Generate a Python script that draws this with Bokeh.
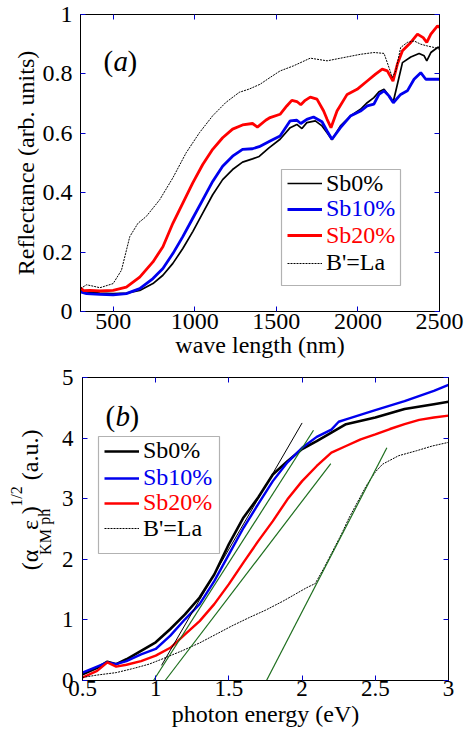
from bokeh.plotting import figure
from bokeh.models import (Range1d, LinearAxis, FixedTicker, Legend, LegendItem,
                          Label, BoxAnnotation)
from bokeh.layouts import column, row
from bokeh.embed import file_html
from bokeh.resources import INLINE
import math

# ---------------- data: panel (a) reflectance vs wavelength ----------------
wl_sb0 = [300, 337, 419, 500, 581, 663, 744, 805, 866, 927, 988, 1049, 1110, 1171, 1232, 1293,
          1354, 1395, 1455, 1523, 1585, 1626, 1657, 1687, 1739, 1780, 1811, 1841, 1893, 1954,
          2016, 2057, 2098, 2129, 2160, 2190, 2217, 2242, 2273, 2324, 2375, 2406, 2422, 2447,
          2488, 2500]
r_sb0 = [0.071, 0.066, 0.062, 0.060, 0.062, 0.071, 0.094, 0.122, 0.162, 0.212, 0.269, 0.331,
         0.393, 0.444, 0.478, 0.503, 0.514, 0.522, 0.551, 0.580, 0.619, 0.630, 0.616, 0.636,
         0.642, 0.625, 0.602, 0.578, 0.625, 0.658, 0.681, 0.703, 0.720, 0.740, 0.748, 0.726,
         0.707, 0.765, 0.838, 0.857, 0.869, 0.861, 0.844, 0.872, 0.889, 0.889]

wl_sb10 = [300, 337, 419, 500, 581, 663, 744, 805, 866, 927, 988, 1049, 1110, 1171, 1232, 1293,
           1354, 1395, 1462, 1523, 1585, 1626, 1650, 1687, 1728, 1780, 1811, 1841, 1893, 1954,
           2016, 2057, 2098, 2129, 2160, 2190, 2217, 2262, 2303, 2344, 2385, 2416, 2447, 2500]
r_sb10 = [0.066, 0.060, 0.058, 0.056, 0.060, 0.077, 0.111, 0.145, 0.195, 0.252, 0.314, 0.376,
          0.438, 0.489, 0.523, 0.546, 0.548, 0.555, 0.574, 0.591, 0.642, 0.644, 0.633, 0.647,
          0.655, 0.639, 0.608, 0.580, 0.619, 0.658, 0.675, 0.692, 0.698, 0.731, 0.743, 0.726,
          0.703, 0.731, 0.743, 0.782, 0.804, 0.782, 0.782, 0.782]

wl_sb20 = [300, 320, 358, 419, 500, 581, 663, 744, 805, 866, 927, 988, 1049, 1110, 1171, 1232,
           1293, 1354, 1384, 1435, 1462, 1523, 1564, 1595, 1626, 1650, 1677, 1708, 1749, 1790,
           1811, 1835, 1872, 1934, 1995, 2057, 2108, 2149, 2180, 2215, 2242, 2273, 2324, 2365,
           2400, 2422, 2447, 2488, 2500]
r_sb20 = [0.080, 0.070, 0.071, 0.069, 0.071, 0.082, 0.116, 0.167, 0.218, 0.297, 0.365, 0.433,
          0.495, 0.546, 0.585, 0.614, 0.628, 0.633, 0.621, 0.644, 0.653, 0.664, 0.692, 0.711,
          0.707, 0.696, 0.711, 0.722, 0.715, 0.675, 0.647, 0.619, 0.675, 0.731, 0.748, 0.776,
          0.799, 0.816, 0.810, 0.776, 0.833, 0.878, 0.906, 0.934, 0.922, 0.906, 0.934, 0.962,
          0.956]

wl_la = [300, 337, 380, 419, 500, 551, 602, 652, 703, 785, 866, 947, 1029, 1110, 1191, 1273,
         1334, 1400, 1462, 1523, 1605, 1708, 1811, 1913, 2016, 2098, 2160, 2180, 2211, 2232,
         2262, 2303, 2344, 2385, 2426, 2467, 2500]
r_la = [0.077, 0.090, 0.085, 0.080, 0.094, 0.139, 0.252, 0.297, 0.320, 0.376, 0.450, 0.534,
        0.602, 0.659, 0.704, 0.738, 0.749, 0.765, 0.788, 0.810, 0.827, 0.853, 0.844, 0.855,
        0.866, 0.872, 0.869, 0.838, 0.788, 0.810, 0.889, 0.906, 0.911, 0.900, 0.894, 0.889,
        0.883]

a_xticks = [500, 1000, 1500, 2000, 2500]
a_xlabels = ["500", "1000", "1500", "2000", "2500"]
a_yticks = [0, 0.2, 0.4, 0.6, 0.8, 1.0]
a_ylabels = ["0", "0.2", "0.4", "0.6", "0.8", "1"]

# ---------------- data: panel (b) Kubelka-Munk vs photon energy ----------------
e_sb0 = [0.5, 0.6, 0.67, 0.73, 0.8, 0.9, 1.0, 1.1, 1.2, 1.3, 1.4, 1.5, 1.6, 1.7, 1.8, 1.9,
         2.0, 2.1, 2.2, 2.3, 2.5, 2.7, 2.9, 3.0]
k_sb0 = [0.10, 0.21, 0.31, 0.27, 0.35, 0.49, 0.63, 0.85, 1.09, 1.37, 1.75, 2.25, 2.69, 3.02,
         3.40, 3.62, 3.82, 3.95, 4.09, 4.23, 4.34, 4.48, 4.56, 4.60]
e_sb10 = [0.5, 0.6, 0.67, 0.73, 0.8, 0.9, 1.0, 1.1, 1.2, 1.3, 1.4, 1.5, 1.6, 1.7, 1.8, 1.9,
          2.0, 2.1, 2.2, 2.25, 2.3, 2.5, 2.7, 2.9, 3.0]
k_sb10 = [0.13, 0.23, 0.30, 0.27, 0.32, 0.43, 0.52, 0.74, 1.01, 1.26, 1.64, 2.08, 2.52, 2.91,
          3.29, 3.60, 3.84, 4.02, 4.14, 4.27, 4.31, 4.46, 4.61, 4.78, 4.88]
e_sb20 = [0.5, 0.6, 0.67, 0.73, 0.8, 0.9, 1.0, 1.1, 1.2, 1.3, 1.4, 1.5, 1.6, 1.7, 1.8, 1.9,
          2.0, 2.1, 2.2, 2.3, 2.4, 2.5, 2.6, 2.7, 2.8, 2.9, 3.0]
k_sb20 = [0.05, 0.16, 0.30, 0.23, 0.26, 0.32, 0.41, 0.54, 0.76, 0.98, 1.26, 1.59, 1.95, 2.30,
          2.63, 2.99, 3.29, 3.54, 3.76, 3.87, 3.98, 4.06, 4.15, 4.23, 4.30, 4.34, 4.37]
e_la = [0.5, 0.6, 0.73, 0.85, 0.955, 1.05, 1.18, 1.3, 1.41, 1.52, 1.64, 1.75, 1.87, 1.95,
        2.03, 2.09, 2.15, 2.21, 2.27, 2.32, 2.38, 2.44, 2.5, 2.55, 2.66, 2.78, 2.89, 3.0]
k_la = [0.05, 0.09, 0.13, 0.20, 0.27, 0.36, 0.49, 0.62, 0.76, 0.90, 1.04, 1.16, 1.31, 1.42,
        1.53, 1.60, 1.86, 2.14, 2.42, 2.68, 2.95, 3.22, 3.44, 3.57, 3.71, 3.79, 3.87, 3.93]

# linear extrapolation lines (band-gap fits)
fit0_e = [1.04, 2.0]
fit0_k = [0.25, 4.25]
fit10_e = [0.985, 2.078]
fit10_k = [0.0, 4.13]
fit20_e = [1.065, 2.196]
fit20_k = [0.0, 3.58]
fitla_e = [1.757, 2.579]
fitla_k = [0.0, 3.84]

b_xticks = [0.5, 1.0, 1.5, 2.0, 2.5, 3.0]
b_xlabels = ["0.5", "1", "1.5", "2", "2.5", "3"]
b_yticks = [0, 1, 2, 3, 4, 5]
b_ylabels = ["0", "1", "2", "3", "4", "5"]

series_names = ["Sb0%", "Sb10%", "Sb20%", "B'=La"]
series_colors = ["black", "#0000ee", "#ff0000", "black"]

FONT = "Liberation Serif"
TICK = "#0000cc"
FIT_GREEN = "#1d6e1d"


def style_axes(p, xticks, xlabels, yticks, ylabels, xlabel, ylabel, tick_fs, lab_fs,
               tick_std_x, tick_std_y, lab_std_x, lab_std_y):
    bottom = p.below[0]
    left = p.left[0]
    bottom.ticker = FixedTicker(ticks=xticks)
    bottom.major_label_overrides = {t: l for t, l in zip(xticks, xlabels)}
    bottom.axis_label = xlabel
    bottom.major_label_standoff = tick_std_x
    bottom.axis_label_standoff = lab_std_x
    left.ticker = FixedTicker(ticks=yticks)
    left.major_label_overrides = {t: l for t, l in zip(yticks, ylabels)}
    left.axis_label = ylabel
    left.major_label_standoff = tick_std_y
    left.axis_label_standoff = lab_std_y
    # mirrored tick axes (top / right), without labels
    top = LinearAxis(ticker=FixedTicker(ticks=xticks))
    right = LinearAxis(ticker=FixedTicker(ticks=yticks))
    for ax in (top, right):
        ax.major_label_text_color = None
        ax.major_label_text_font_size = "1px"
        ax.major_label_standoff = 0
    p.add_layout(top, "above")
    p.add_layout(right, "right")
    for ax in (bottom, left, top, right):
        ax.axis_line_color = "black"
        ax.major_tick_line_color = TICK
        ax.major_tick_line_width = 1
        ax.major_tick_in = 5
        ax.major_tick_out = 0
        ax.minor_tick_line_color = None
    for ax in (bottom, left):
        ax.major_label_text_font = FONT
        ax.major_label_text_font_size = tick_fs
        ax.major_label_text_font_style = "normal"
        ax.major_label_text_color = "black"
        ax.axis_label_text_font = FONT
        ax.axis_label_text_font_style = "normal"
        ax.axis_label_text_font_size = lab_fs
        ax.axis_label_text_color = "black"
    p.xgrid.visible = False
    p.ygrid.visible = False
    p.outline_line_color = "black"
    p.outline_line_width = 1


def add_legend_rows(p, renderers, x0, row_ys, glyph_w, standoff):
    for r, name, col, yc in zip(renderers, series_names, series_colors, row_ys):
        leg = Legend(items=[LegendItem(label=name, renderers=[r])], location=(x0, yc - 10),
                     border_line_color=None, background_fill_alpha=0, padding=0, margin=0,
                     spacing=0, glyph_width=glyph_w, glyph_height=20, label_height=20,
                     label_standoff=standoff, label_text_font=FONT,
                     label_text_font_style="normal",
                     label_text_font_size="24px", label_text_color=col,
                     label_text_baseline="middle")
        p.add_layout(leg)


# ---------------- panel (a) ----------------
p1 = figure(width=464, height=366, output_backend="svg", toolbar_location=None,
            x_range=Range1d(300, 2500), y_range=Range1d(0, 1),
            min_border_left=80, min_border_right=25, min_border_top=14, min_border_bottom=55)
style_axes(p1, a_xticks, a_xlabels, a_yticks, a_ylabels, "wave length (nm)",
           "Reflectance (arb. units)", "24px", "24px", 2, 8, 0, 1)

ra0 = p1.line(wl_sb0, r_sb0, line_color="black", line_width=1.7)
ra10 = p1.line(wl_sb10, r_sb10, line_color=series_colors[1], line_width=2.8)
ra20 = p1.line(wl_sb20, r_sb20, line_color=series_colors[2], line_width=2.8)
rala = p1.line(wl_la, r_la, line_color="black", line_width=1, line_dash="2 1")

p1.add_layout(BoxAnnotation(left=201, right=320, bottom=26, top=142,
                            left_units="screen", right_units="screen",
                            bottom_units="screen", top_units="screen",
                            fill_color=None, line_color="black", line_width=1.2))
add_legend_rows(p1, [ra0, ra10, ra20, rala], 207, [124.3, 98.7, 72.3, 45.0], 35, 4)

for txt, dx, style in (("(", 0, "normal"), ("a", 10, "italic"), (")", 24, "normal")):
    p1.add_layout(Label(x=23 + dx, y=251, x_units="screen", y_units="screen", text=txt,
                        text_font=FONT, text_font_size="29px", text_font_style=style,
                        text_baseline="alphabetic", text_color="black"))

# ---------------- panel (b) ----------------
p2 = figure(width=408, height=372, output_backend="svg", toolbar_location=None,
            x_range=Range1d(0.5, 3.0), y_range=Range1d(0, 5),
            min_border_left=26, min_border_right=16, min_border_top=11, min_border_bottom=58)
style_axes(p2, b_xticks, b_xlabels, b_yticks, b_ylabels, "photon energy (eV)", "",
           "23px", "24px", 0, 9, 2, 0)

rb0 = p2.line(e_sb0, k_sb0, line_color="black", line_width=2.6)
rb10 = p2.line(e_sb10, k_sb10, line_color=series_colors[1], line_width=2.4)
rb20 = p2.line(e_sb20, k_sb20, line_color=series_colors[2], line_width=2.4)
rbla = p2.line(e_la, k_la, line_color="black", line_width=1, line_dash="2 1")
p2.line(fit0_e, fit0_k, line_color="black", line_width=1)
p2.line(fit10_e, fit10_k, line_color=FIT_GREEN, line_width=1.2)
p2.line(fit20_e, fit20_k, line_color=FIT_GREEN, line_width=1.2)
p2.line(fitla_e, fitla_k, line_color=FIT_GREEN, line_width=1.2)

p2.add_layout(BoxAnnotation(left=16, right=137, bottom=127, top=244,
                            left_units="screen", right_units="screen",
                            bottom_units="screen", top_units="screen",
                            fill_color=None, line_color="black", line_width=1.2))
add_legend_rows(p2, [rb0, rb10, rb20, rbla], 22, [225.7, 199.0, 173.7, 148.3], 35, 4)

for txt, dx, style in (("(", 0, "normal"), ("b", 10, "italic"), (")", 24, "normal")):
    p2.add_layout(Label(x=23 + dx, y=265, x_units="screen", y_units="screen", text=txt,
                        text_font=FONT, text_font_size="29px", text_font_style=style,
                        text_baseline="alphabetic", text_color="black"))

# rotated y-axis label (α_KM ε_ph)^{1/2} (a.u.) drawn in a narrow side figure whose
# data coordinates equal its pixel coordinates (y measured downward from page y=366)
pl = figure(width=56, height=372, output_backend="svg", toolbar_location=None,
            x_range=Range1d(0, 56), y_range=Range1d(738, 366),
            min_border=0, min_border_left=0, min_border_right=0, min_border_top=0,
            min_border_bottom=0, x_axis_type=None, y_axis_type=None, title=None)
pl.outline_line_color = None
pl.xgrid.visible = False
pl.ygrid.visible = False
ylab_parts = [("(α", 29.5, 590, "24px"), ("KM", 44.5, 568, "16px"), ("ε", 29.5, 547, "24px"),
              ("ph", 43.5, 537, "16px"), (")", 29.5, 529, "24px"), ("1/2", 15.5, 512, "16px"),
              ("(a.u.)", 29.5, 461, "24px")]
for txt, x, y, fs in ylab_parts:
    pl.add_layout(Label(x=x, y=y, text=txt, angle=math.pi / 2, text_font=FONT,
                        text_font_size=fs, text_font_style="normal",
                        text_baseline="middle", text_align="center", text_color="black"))

layout = column(p1, row(pl, p2))
open("out.html", "w").write(file_html(layout, INLINE))
